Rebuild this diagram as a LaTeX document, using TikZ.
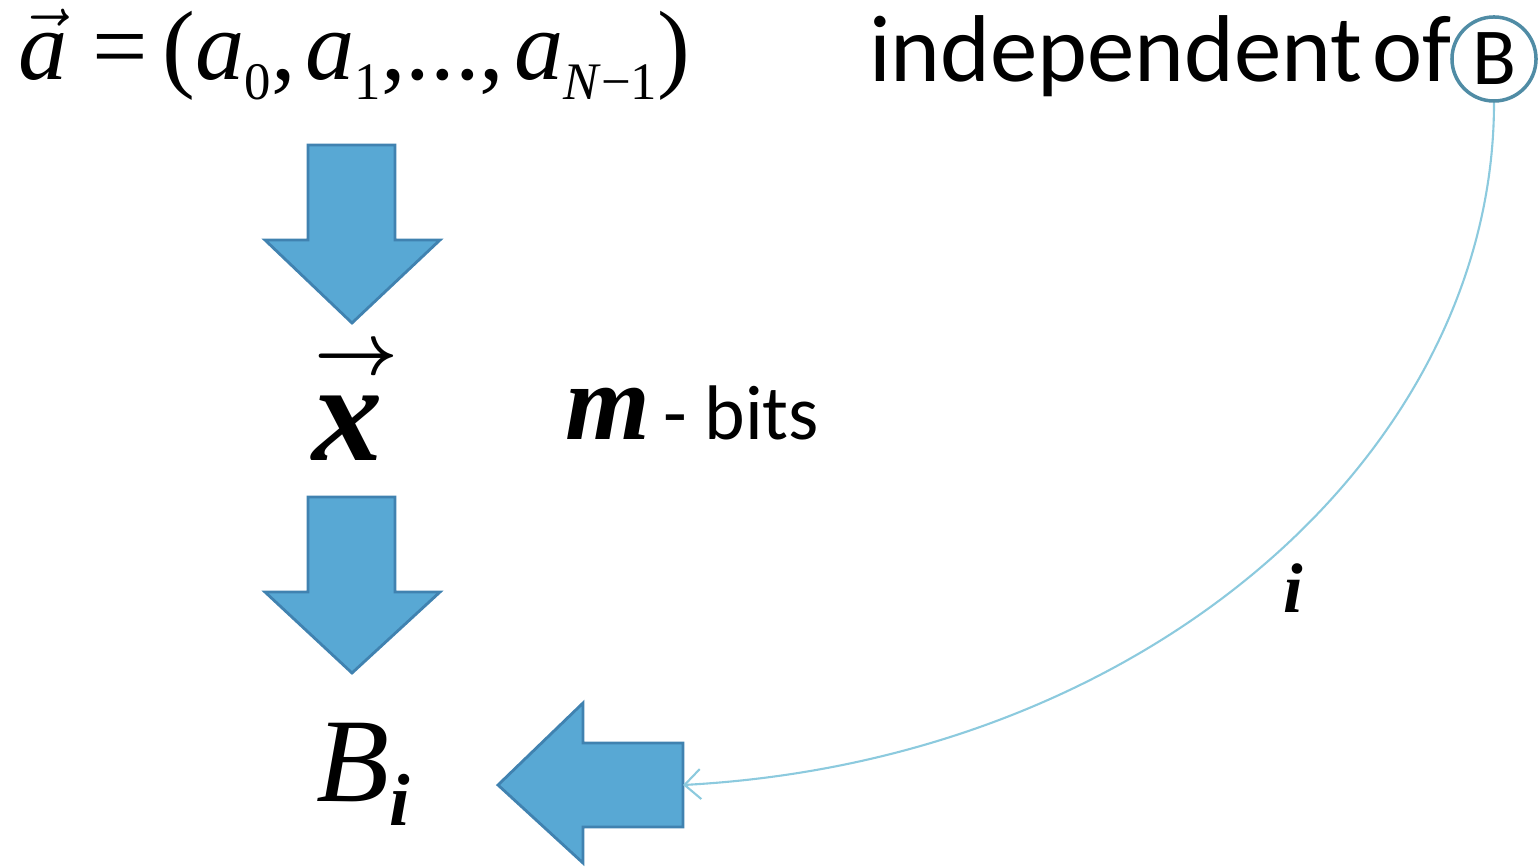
\documentclass[tikz,border=0pt]{standalone}
\usepackage{amsmath}
\usepackage{fontspec}
\setmainfont{Liberation Serif}
\newfontfamily\calibri{Carlito}
\usetikzlibrary{arrows.meta, positioning}

\definecolor{arrowblue}{RGB}{88,168,212}
\definecolor{arrowedge}{RGB}{64,130,176}
\definecolor{linkcyan}{RGB}{140,202,222}
\definecolor{ringteal}{RGB}{80,140,165}

\newcommand{\lowsub}[1]{\raisebox{-5.5pt}{\fontsize{15}{17}\selectfont #1}}

\tikzset{
  bigarrow/.style={fill=arrowblue, draw=arrowedge, line width=0.8pt, line join=miter},
  sanslabel/.style={font=\calibri\fontsize{22}{26}\selectfont, inner sep=0pt},
}

\begin{document}
\begin{tikzpicture}[x=0.01cm, y=0.01cm]
\useasboundingbox (0,0) rectangle (1539,866);
% texts
\node[anchor=base west, inner sep=0pt, font=\fontsize{28}{32}\selectfont] (avec) at (18,786)
  {$\vec{\textit{a}}$\hspace{0.25em}=\hspace{0.15em}(\textit{a}\lowsub{0},\hspace{0.1em}\textit{a}\lowsub{1},...,\hspace{0.1em}\textit{a}\lowsub{\textit{N}−1})};
\node[sanslabel, font=\calibri\fontsize{27}{31}\selectfont, anchor=base east] (indep) at (1452,784) {independent\hspace{0.1em}of};
\node[sanslabel, font=\calibri\fontsize{23}{27}\selectfont, draw=ringteal, circle, line width=1pt, minimum size=0.84cm] (bnode) at (1494,807) {B};
\node[anchor=base, inner sep=0pt, font=\fontsize{40}{46}\selectfont\bfseries\itshape] (xvec) at (348,406) {x};
\node[inner sep=0pt, font=\fontsize{21}{21}\selectfont, above=2mm of xvec, xshift=0.08cm] (xarrow) {$\boldsymbol{\rightarrow}$};
\node[anchor=base west, inner sep=0pt] (mbits) at (565,426) {{\fontsize{31}{36}\selectfont\bfseries\itshape m}{\calibri\fontsize{22}{26}\selectfont\,- bits}};
\node[anchor=base west, inner sep=0pt, font=\fontsize{34}{38}\selectfont] (bi) at (316,65) {\textit{B}\raisebox{-7pt}{\fontsize{21}{24}\selectfont\bfseries\itshape i}};
\node[inner sep=0pt, font=\fontsize{20}{24}\selectfont\bfseries\itshape] (ilab) at (1293,278) {i};
% block arrows
\draw[bigarrow] (308,721) -- (395,721) -- (395,626) -- (440,626) -- (352,543) -- (265,626) -- (308,626) -- cycle;
\draw[bigarrow] (308,369) -- (395,369) -- (395,274) -- (440,274) -- (352,193) -- (265,274) -- (308,274) -- cycle;
\draw[bigarrow] (683,123) -- (583,123) -- (583,163) -- (498,81) -- (583,3) -- (583,39) -- (683,39) -- cycle;
\coordinate (feed) at (683,81);
% link from B
\draw[linkcyan, line width=0.6pt, -{Straight Barb[length=1.6mm,width=3mm]}] (bnode.south) .. controls (1494,416) and (1150,106) .. (feed);
\end{tikzpicture}
\end{document}
